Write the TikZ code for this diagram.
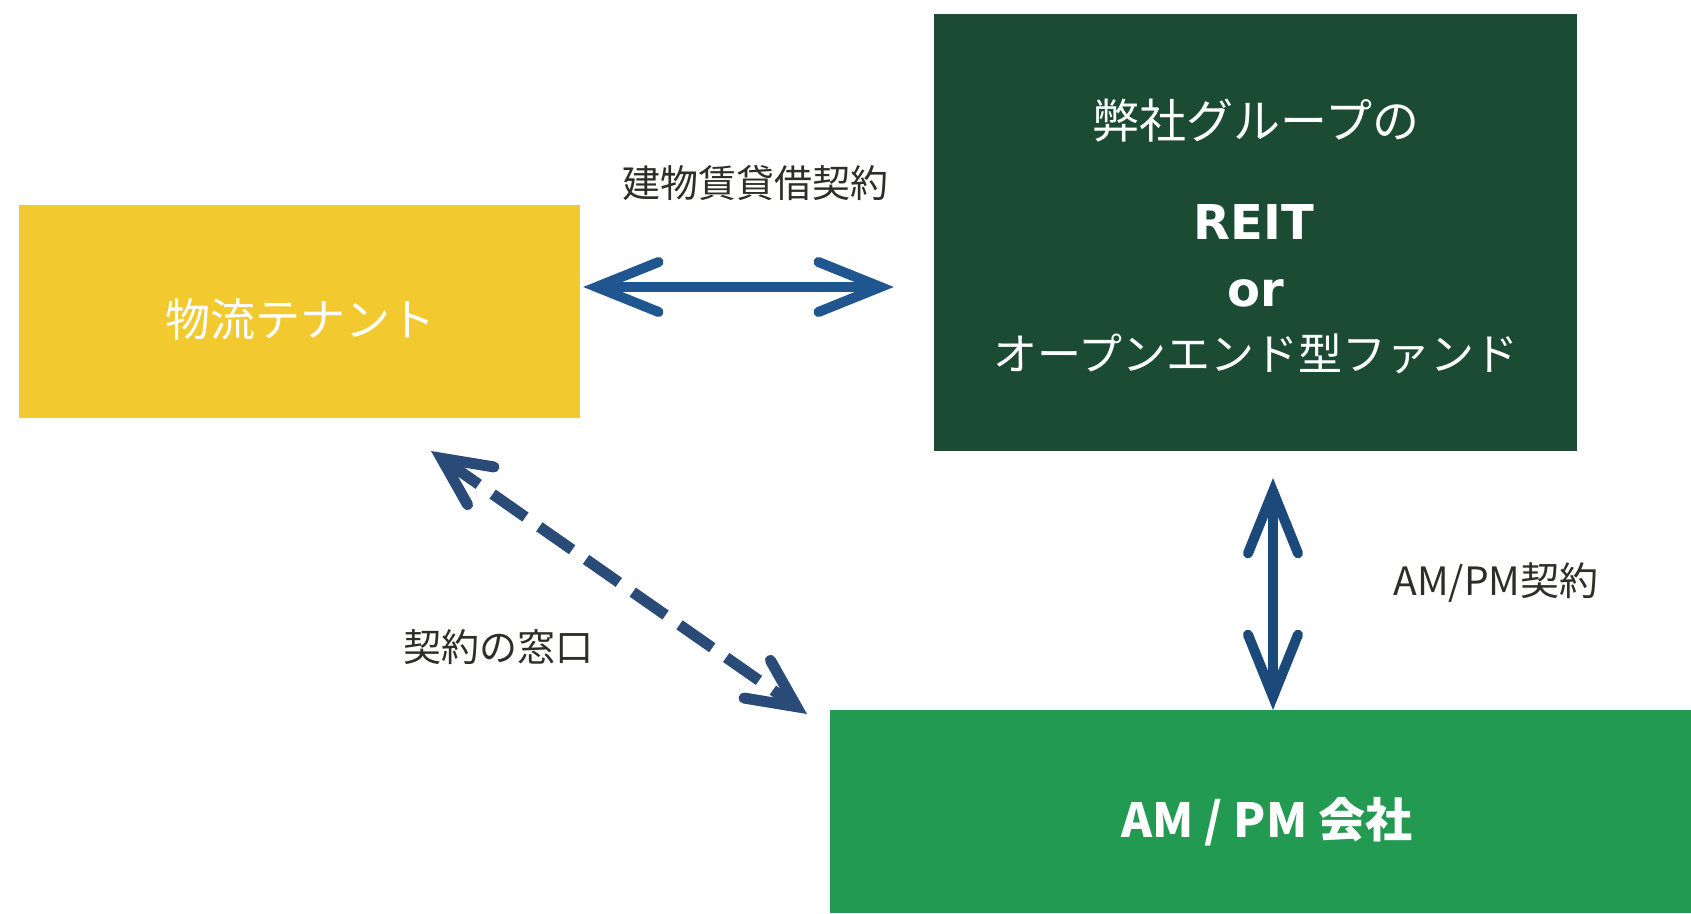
\documentclass[tikz,border=0pt]{standalone}
\usepackage{fontspec}
\setmainfont{Noto Sans CJK JP}
\newfontfamily\latinfont{DejaVu Sans}
\usetikzlibrary{arrows.meta}
\definecolor{yel}{HTML}{F2C92F}
\definecolor{dgreen}{HTML}{1B4B33}
\definecolor{mgreen}{HTML}{239A52}
\definecolor{arrowblue}{HTML}{1F5690}
\definecolor{dashblue}{HTML}{2A4B78}
\definecolor{txt}{HTML}{2E2E28}
\tikzset{
  box/.style={draw=none, rectangle, inner sep=0pt},
  wlabel/.style={text=white, inner sep=0pt, anchor=center},
  dlabel/.style={text=txt, inner sep=0pt, anchor=center},
  dbl/.style={line width=10pt, line cap=round, color=arrowblue,
    {Straight Barb[length=62pt, width=50pt, line cap=round]}-{Straight Barb[length=62pt, width=50pt, line cap=round]}},
}
\begin{document}
\begin{tikzpicture}[x=1pt, y=-1pt]
\useasboundingbox (0,0) rectangle (1691,913);
\fill[white] (0,0) rectangle (1691,913);
% boxes
\node[box, fill=yel, minimum width=561pt, minimum height=213pt] (tenant) at (299.5,311.5) {};
\node[box, fill=dgreen, minimum width=643pt, minimum height=437pt] (reit) at (1255.5,232.5) {};
\node[box, fill=mgreen, minimum width=861pt, minimum height=203pt] (ampm) at (1260.5,811.5) {};
% texts in boxes
\node[wlabel, font=\fontsize{45}{48}\selectfont] (t1) at (300,319) {物流テナント};
\node[wlabel, font=\fontsize{47}{50}\selectfont] (r1) at (1256,121) {弊社グループの};
\node[wlabel, font=\latinfont\fontsize{48}{52}\selectfont\bfseries] (r2) at (1254,222) {REIT};
\node[wlabel, font=\latinfont\fontsize{48}{52}\selectfont\bfseries] (r3) at (1256,293) {or};
\node[wlabel, font=\fontsize{44}{48}\selectfont] (r4) at (1256,354) {オープンエンド型ファンド};
\node[wlabel, font=\fontsize{47}{50}\selectfont\bfseries] (a1) at (1267,822) {AM / PM 会社};
% labels
\node[dlabel, font=\fontsize{38}{42}\selectfont] (l1) at (755,183) {建物賃貸借契約};
\node[dlabel, font=\fontsize{39}{42}\selectfont] (l2) at (1496,583) {AM/PM契約};
\node[dlabel, font=\fontsize{38}{42}\selectfont] (l3) at (498,647) {契約の窓口};
% connector ends
\coordinate (hL) at (tenant.east |- 0,287);
\coordinate (hR) at (reit.west |- 0,287);
\coordinate (vT) at (1273,451);
\coordinate (vB) at (1273,710);
\coordinate (dA) at (431,451);
\coordinate (dB) at (807,714);
% arrows
\draw[dbl, shorten <=3pt, shorten >=40pt] (hL) -- (hR);
\draw[dbl, color=arrowblue!85!black, shorten <=27pt] (vT) -- (vB);
\draw[line width=11pt, color=dashblue, dash pattern=on 40pt off 17pt,
  {Straight Barb[length=48pt, width=46pt, line cap=round]}-{Straight Barb[length=48pt, width=46pt, line cap=round]}]
  (dA) -- (dB);
\end{tikzpicture}
\end{document}
